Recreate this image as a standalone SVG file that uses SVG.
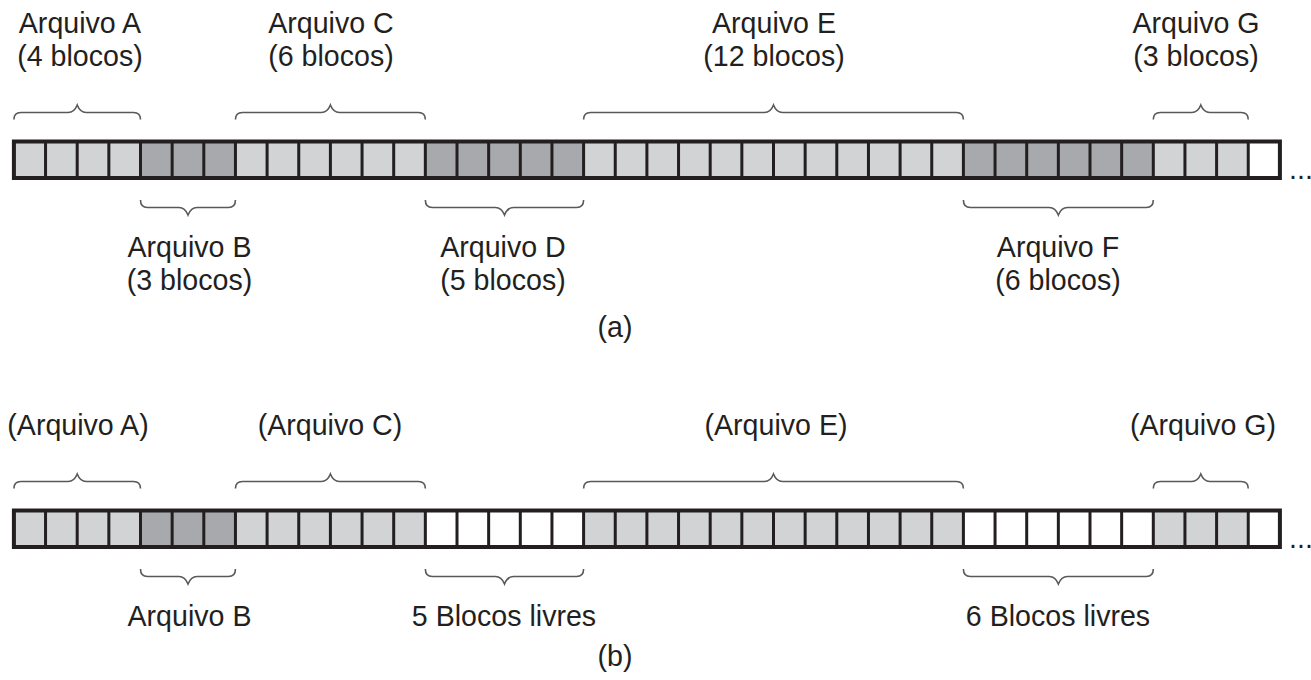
<svg xmlns="http://www.w3.org/2000/svg" xmlns:xlink="http://www.w3.org/1999/xlink" width="1311" height="680" viewBox="0 0 1311 680">
<style>
text{font-family:"Liberation Sans",Arial,sans-serif;font-size:28.6px;fill:#231f20;text-anchor:middle}
.lt{fill:#d1d3d4}
.dk{fill:#a7a9ac}
.wh{fill:#ffffff}
.div{fill:none;stroke:#231f20;stroke-width:3}
.frame{fill:none;stroke:#231f20;stroke-width:4}
.brace{fill:none;stroke:#58595b;stroke-width:1.6}
.dots{text-anchor:start}
</style>
<defs>
<path id="dividers" class="div" d="M45.55 141.5V178M77.2 141.5V178M108.85 141.5V178M140.5 141.5V178M172.15 141.5V178M203.8 141.5V178M235.45 141.5V178M267.1 141.5V178M298.75 141.5V178M330.4 141.5V178M362.05 141.5V178M393.7 141.5V178M425.35 141.5V178M457 141.5V178M488.65 141.5V178M520.3 141.5V178M551.95 141.5V178M583.6 141.5V178M615.25 141.5V178M646.9 141.5V178M678.55 141.5V178M710.2 141.5V178M741.85 141.5V178M773.5 141.5V178M805.15 141.5V178M836.8 141.5V178M868.45 141.5V178M900.1 141.5V178M931.75 141.5V178M963.4 141.5V178M995.05 141.5V178M1026.7 141.5V178M1058.35 141.5V178M1090 141.5V178M1121.65 141.5V178M1153.3 141.5V178M1184.95 141.5V178M1216.6 141.5V178M1248.25 141.5V178"/>
<g id="braces">
<path class="brace" d="M13.9 119.5Q13.9 112.5 20.9 112.5H68.2Q74.2 112.5 77.2 105Q80.2 112.5 86.2 112.5H133.5Q140.5 112.5 140.5 119.5"/>
<path class="brace" d="M235.45 119.5Q235.45 112.5 242.45 112.5H321.4Q327.4 112.5 330.4 105Q333.4 112.5 339.4 112.5H418.35Q425.35 112.5 425.35 119.5"/>
<path class="brace" d="M583.6 119.5Q583.6 112.5 590.6 112.5H764.5Q770.5 112.5 773.5 105Q776.5 112.5 782.5 112.5H956.4Q963.4 112.5 963.4 119.5"/>
<path class="brace" d="M1153.3 119.5Q1153.3 112.5 1160.3 112.5H1191.8Q1197.8 112.5 1200.8 105Q1203.8 112.5 1209.8 112.5H1241.25Q1248.25 112.5 1248.25 119.5"/>
<path class="brace" d="M140.5 200Q140.5 207.5 147.5 207.5H179Q185 207.5 188 215Q191 207.5 197 207.5H228.45Q235.45 207.5 235.45 200"/>
<path class="brace" d="M425.35 200Q425.35 207.5 432.35 207.5H495.5Q501.5 207.5 504.5 215Q507.5 207.5 513.5 207.5H576.6Q583.6 207.5 583.6 200"/>
<path class="brace" d="M963.4 200Q963.4 207.5 970.4 207.5H1049.35Q1055.35 207.5 1058.35 215Q1061.35 207.5 1067.35 207.5H1146.3Q1153.3 207.5 1153.3 200"/>
</g>
</defs>

<g id="strip-a">
<g id="a-file-A"><rect class="lt" x="13.9" y="141.5" width="126.6" height="36.5"/></g>
<g id="a-file-B"><rect class="dk" x="140.5" y="141.5" width="94.95" height="36.5"/></g>
<g id="a-file-C"><rect class="lt" x="235.45" y="141.5" width="189.9" height="36.5"/></g>
<g id="a-file-D"><rect class="dk" x="425.35" y="141.5" width="158.25" height="36.5"/></g>
<g id="a-file-E"><rect class="lt" x="583.6" y="141.5" width="379.8" height="36.5"/></g>
<g id="a-file-F"><rect class="dk" x="963.4" y="141.5" width="189.9" height="36.5"/></g>
<g id="a-file-G"><rect class="lt" x="1153.3" y="141.5" width="94.95" height="36.5"/></g>
<g id="a-free"><rect class="wh" x="1248.25" y="141.5" width="31.65" height="36.5"/></g>
<use xlink:href="#dividers"/>
<rect class="frame" x="13.9" y="141.5" width="1266" height="36.5"/>
<text class="dots" x="1289" y="179">...</text>
</g>

<g id="strip-b">
<g id="b-file-A"><rect class="lt" x="13.9" y="510.5" width="126.6" height="36.5"/></g>
<g id="b-file-B"><rect class="dk" x="140.5" y="510.5" width="94.95" height="36.5"/></g>
<g id="b-file-C"><rect class="lt" x="235.45" y="510.5" width="189.9" height="36.5"/></g>
<g id="b-free-5"><rect class="wh" x="425.35" y="510.5" width="158.25" height="36.5"/></g>
<g id="b-file-E"><rect class="lt" x="583.6" y="510.5" width="379.8" height="36.5"/></g>
<g id="b-free-6"><rect class="wh" x="963.4" y="510.5" width="189.9" height="36.5"/></g>
<g id="b-file-G"><rect class="lt" x="1153.3" y="510.5" width="94.95" height="36.5"/></g>
<g id="b-free"><rect class="wh" x="1248.25" y="510.5" width="31.65" height="36.5"/></g>
<use xlink:href="#dividers" transform="translate(0,369)"/>
<rect class="frame" x="13.9" y="510.5" width="1266" height="36.5"/>
<text class="dots" x="1289" y="548">...</text>
</g>

<g id="connectors">
<use xlink:href="#braces"/>
<use xlink:href="#braces" transform="translate(0,369)"/>
</g>

<g id="labels-a">
<text x="80" y="33.3">Arquivo A</text><text x="80" y="65.5">(4 blocos)</text>
<text x="331" y="33.3">Arquivo C</text><text x="331" y="65.5">(6 blocos)</text>
<text x="774" y="33.3">Arquivo E</text><text x="774" y="65.5">(12 blocos)</text>
<text x="1196" y="33.3">Arquivo G</text><text x="1196" y="65.5">(3 blocos)</text>
<text x="189.5" y="256.7">Arquivo B</text><text x="189.5" y="289.5">(3 blocos)</text>
<text x="503" y="256.7">Arquivo D</text><text x="503" y="289.5">(5 blocos)</text>
<text x="1058" y="256.7">Arquivo F</text><text x="1058" y="289.5">(6 blocos)</text>
<text x="615" y="337">(a)</text>
</g>

<g id="labels-b">
<text x="78" y="435">(Arquivo A)</text>
<text x="330" y="435">(Arquivo C)</text>
<text x="776" y="435">(Arquivo E)</text>
<text x="1203" y="435">(Arquivo G)</text>
<text x="189.5" y="626">Arquivo B</text>
<text x="504" y="626">5 Blocos livres</text>
<text x="1058" y="626">6 Blocos livres</text>
<text x="615" y="666">(b)</text>
</g>
</svg>
